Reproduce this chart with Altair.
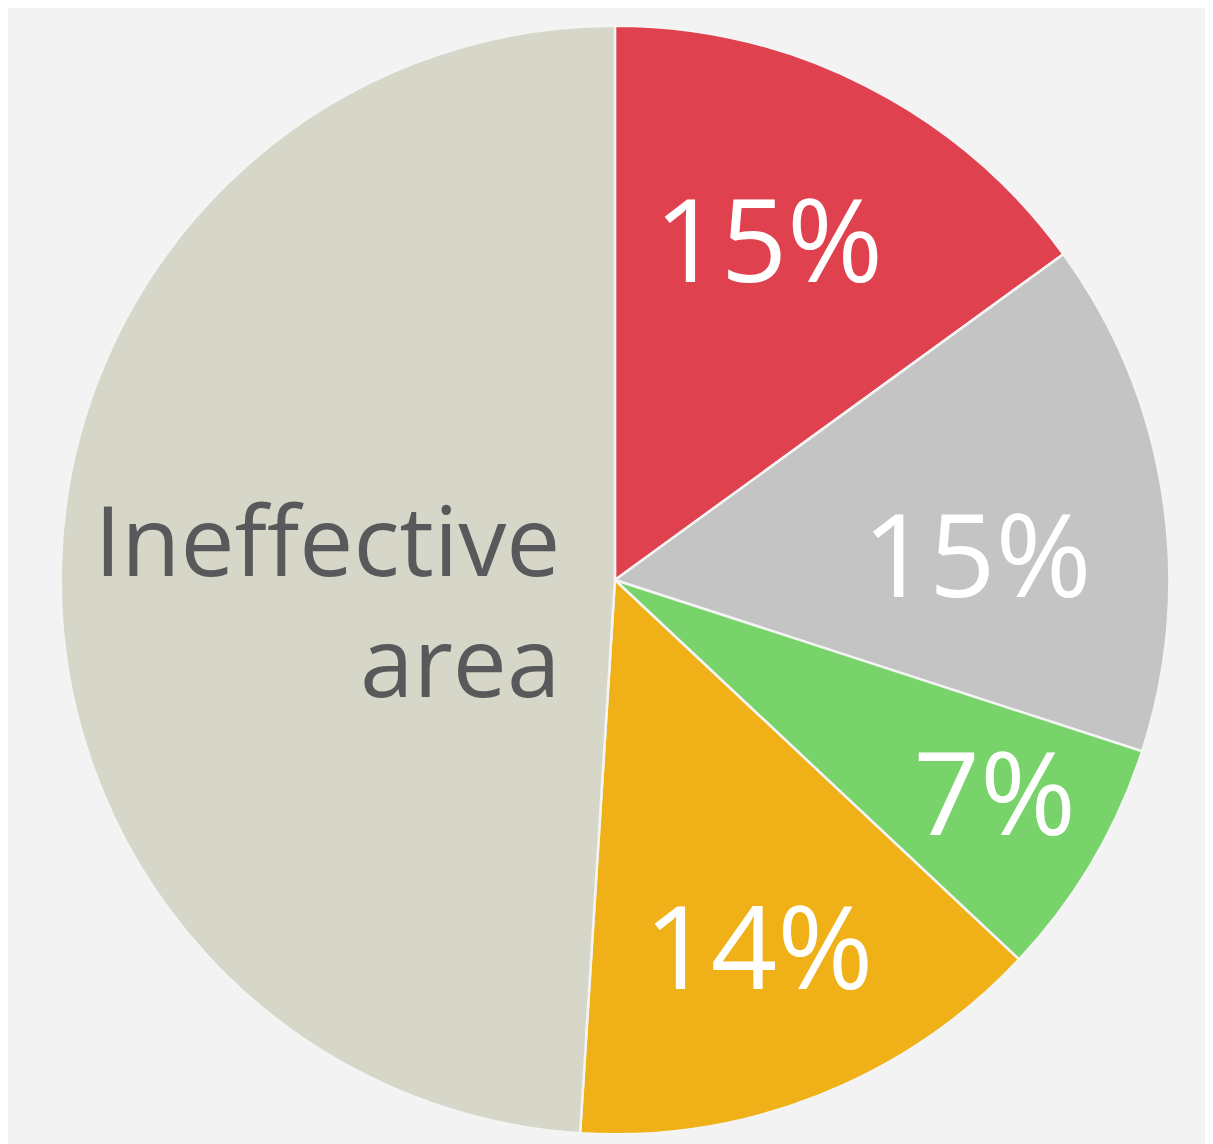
import math
import altair as alt
import pandas as pd

categories = ["Red", "Gray", "Green", "Orange", "Ineffective area"]
values = [15, 15, 7, 14, 49]
labels = ["15%", "15%", "7%", "14%", "Ineffective area"]
colors = ["#e0414f", "#c4c4c4", "#77d36a", "#efb117", "#d6d7c8"]
order = [1, 2, 3, 4, 5]

df = pd.DataFrame({"cat": categories, "pct": values, "label": labels, "ord": order})

base = alt.Chart(df)

arcs = base.mark_arc(radius=558, stroke="#f4f4f4", strokeWidth=2.5).encode(
    theta=alt.Theta("pct:Q", stack=True),
    color=alt.Color("cat:N", scale=alt.Scale(domain=categories, range=colors), legend=None),
    order=alt.Order("ord:Q"),
)


def label_layer(cat, radius, offset_deg, size, color, align="center", baseline="middle", text_expr=None):
    layer = (
        base.transform_window(cum="sum(pct)", sort=[alt.SortField("ord")])
        .transform_calculate(ang=f"((datum.cum - datum.pct/2) * 3.6 + {offset_deg}) * PI / 180")
        .transform_filter(alt.datum.cat == cat)
    )
    if text_expr is not None:
        layer = layer.transform_calculate(txt=text_expr)
        field = "txt:N"
    else:
        field = "label:N"
    return layer.mark_text(
        radius=radius,
        font="Open Sans",
        fontSize=size,
        color=color,
        align=align,
        baseline=baseline,
        lineHeight=122,
        lineBreak="\n",
    ).encode(theta=alt.Theta("ang:Q", scale=None), text=alt.Text(field))


t1 = label_layer("Red", 369, -2.2, 117, "#ffffff")
t2 = label_layer("Gray", 365, 6.2, 117, "#ffffff")
t3 = label_layer("Green", 442, -0.5, 117, "#ffffff")
t4 = label_layer("Orange", 404, 0.6, 117, "#ffffff")
t5 = label_layer(
    "Ineffective area", 55, 2.5, 97, "#58595b",
    align="right", baseline="alphabetic", text_expr="'Ineffective\\narea'",
)

chart = (
    alt.layer(arcs, t1, t2, t3, t4, t5)
    .resolve_scale(theta="independent")
    .properties(width=1188, height=1130, padding={"left": 17, "top": 7, "right": 0, "bottom": 0})
    .configure(background="#f3f3f3")
    .configure_view(stroke=None)
)

chart.save("out.html", embed_options={"renderer": "svg", "actions": False})
